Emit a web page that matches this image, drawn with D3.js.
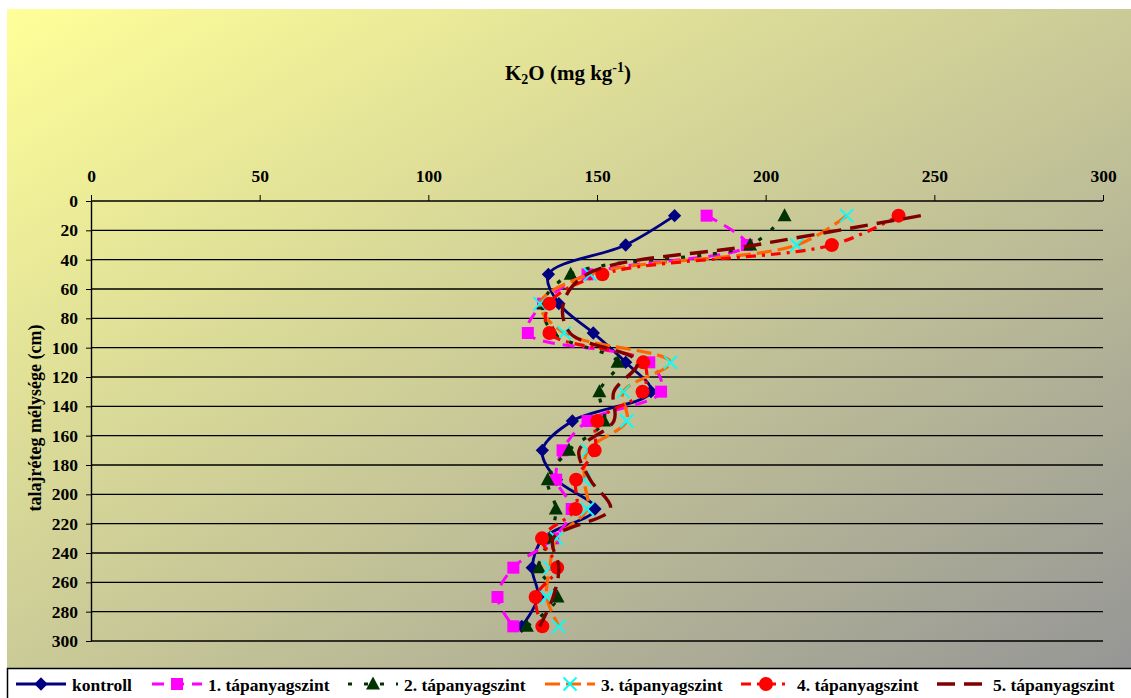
<!DOCTYPE html>
<html>
<head>
<meta charset="utf-8">
<script src="https://cdn.jsdelivr.net/npm/d3@7"></script>
<style>
  body { margin: 0; background: #fff; }
  svg { display: block; }
  text { font-family: "Liberation Serif", "Times New Roman", serif; font-weight: bold; fill: #000; }
</style>
</head>
<body>
<svg id="chart" width="1131" height="698"></svg>
<script>
// Sampling depths (cm) – midpoints of the 20 cm soil layers
const depths = [10, 30, 50, 70, 90, 110, 130, 150, 170, 190, 210, 230, 250, 270, 290];
const depthTicks = [0, 20, 40, 60, 80, 100, 120, 140, 160, 180, 200, 220, 240, 260, 280, 300];
const valueTicks = [0, 50, 100, 150, 200, 250, 300];

// K2O content (mg/kg) per treatment
const kontroll = [173, 158.5, 135.6, 138.7, 148.9, 158.5, 166, 142.7, 133.8, 138, 149.4, 134, 130.8, 132.5, 127.7];
const level1   = [182.5, 194.4, 147.2, 134, 129.5, 165.5, 169, 147.2, 139.8, 137.9, 142.5, 137, 125.2, 120.5, 125.2];
const level2   = [205.6, 195.4, 142.2, 134, 137, 156.1, 150.7, 152.1, 141.7, 135.4, 137.8, 136, 132.8, 138.3, 129.2];
const level3   = [224, 209.2, 148, 133.1, 140.3, 171.8, 157.8, 158.8, 147.3, 146.2, 147.1, 138, 136, 135.1, 138.7];
const level4   = [239.4, 219.6, 151.6, 135.9, 135.9, 163.7, 163.5, 150.1, 149.3, 143.8, 143.7, 133.7, 138.2, 131.8, 133.8];
const level5   = [246, 197, 147, 140, 142, 162, 155, 155, 144.7, 148, 154, 137, 138.7, 137, 133];

const seriesNames = ["kontroll", "1. tápanyagszint", "2. tápanyagszint",
                     "3. tápanyagszint", "4. tápanyagszint", "5. tápanyagszint"];

// Line / marker styling for each treatment
const styles = [
  { values: kontroll, color: "#000080", width: 2.8, dash: null,        marker: "diamond",  mColor: "#000080" },
  { values: level1,   color: "#FF00FF", width: 3,   dash: "12,8",      marker: "square",   mColor: "#FF00FF" },
  { values: level2,   color: "#003300", width: 3.2, dash: "4,12",      marker: "triangle", mColor: "#003300" },
  { values: level3,   color: "#FF6600", width: 3.2, dash: "15,6",      marker: "x",        mColor: "#00FFFF" },
  { values: level4,   color: "#FF0000", width: 3.2, dash: "10,6,3,6",  marker: "circle",   mColor: "#FF0000" },
  { values: level5,   color: "#800000", width: 3.4, dash: "18,9",      marker: null,       mColor: null }
];

const svg = d3.select("#chart");

// Background with diagonal yellow-to-grey fill
const defs = svg.append("defs");
const grad = defs.append("linearGradient")
  .attr("id", "bg").attr("x1", 0).attr("y1", 0).attr("x2", 1).attr("y2", 1);
grad.append("stop").attr("offset", "0%").attr("stop-color", "#FFFF99");
grad.append("stop").attr("offset", "100%").attr("stop-color", "#969696");

svg.append("rect").attr("x", 7).attr("y", 9).attr("width", 1124).attr("height", 660)
  .attr("fill", "url(#bg)");

const x = d3.scaleLinear().domain([0, 300]).range([91, 1103]);
const y = d3.scaleLinear().domain([0, 300]).range([201, 641]);

// Horizontal gridlines
svg.append("g").selectAll("line").data(depthTicks).join("line")
  .attr("x1", x(0)).attr("x2", x(300))
  .attr("y1", d => y(d)).attr("y2", d => y(d))
  .attr("stroke", "#000").attr("stroke-width", 1.4);

// Top value axis
const topAxis = svg.append("g").attr("transform", `translate(0,${y(0)})`)
  .call(d3.axisTop(x).tickValues(valueTicks).tickSize(6).tickPadding(13).tickSizeOuter(0));
topAxis.attr("font-family", null);
topAxis.select(".domain").remove();
topAxis.selectAll("line").attr("stroke", "#000");
topAxis.selectAll("text").attr("font-size", 17.5);

// Left depth axis
const leftAxis = svg.append("g").attr("transform", `translate(${x(0)},0)`)
  .call(d3.axisLeft(y).tickValues(depthTicks).tickSize(5).tickPadding(8).tickSizeOuter(0));
leftAxis.attr("font-family", null);
leftAxis.select(".domain").attr("stroke", "#000").attr("stroke-width", 1.4);
leftAxis.selectAll("line").attr("stroke", "#000");
leftAxis.selectAll("text").attr("font-size", 17.5);

// Title with sub/superscripts
const title = svg.append("text").attr("x", 568).attr("y", 80)
  .attr("text-anchor", "middle").attr("font-size", 21);
title.append("tspan").text("K");
title.append("tspan").attr("font-size", 14).attr("dy", 4).text("2");
title.append("tspan").attr("dy", -4).text("O (mg kg");
title.append("tspan").attr("font-size", 14).attr("dy", -8).text("-1");
title.append("tspan").attr("dy", 8).text(")");

// Depth axis label
svg.append("text").attr("transform", "translate(41,418) rotate(-90)")
  .attr("text-anchor", "middle").attr("font-size", 18)
  .text("talajréteg mélysége (cm)");

// Marker drawing helper
function drawMarker(sel, type, color) {
  if (type === "diamond") {
    sel.append("path").attr("d", d3.symbol(d3.symbolSquare, 88)())
      .attr("transform", "rotate(45)")
      .attr("fill", color);
  } else if (type === "square") {
    sel.append("path").attr("d", d3.symbol(d3.symbolSquare, 144)()).attr("fill", color);
  } else if (type === "triangle") {
    sel.append("path").attr("d", "M0,-7.5L7,5.5L-7,5.5Z").attr("fill", color);
  } else if (type === "circle") {
    sel.append("circle").attr("r", 7).attr("fill", color);
  } else if (type === "x") {
    sel.append("path").attr("d", "M-6.5,-6.5L6.5,6.5M-6.5,6.5L6.5,-6.5")
      .attr("stroke", color).attr("stroke-width", 1.8).attr("fill", "none");
  }
}

const line = d3.line()
  .x(d => x(d.v)).y(d => y(d.d))
  .curve(d3.curveCatmullRom.alpha(0.5));

const plot = svg.append("g");
styles.forEach((s, i) => {
  const pts = depths.map((d, j) => ({ d: d, v: s.values[j] }));
  plot.append("path").datum(pts)
    .attr("d", line)
    .attr("fill", "none")
    .attr("stroke", s.color)
    .attr("stroke-width", s.width)
    .attr("stroke-dasharray", s.dash);
  if (s.marker) {
    const g = plot.append("g").selectAll("g").data(pts).join("g")
      .attr("transform", p => `translate(${x(p.v)},${y(p.d)})`);
    g.each(function () { drawMarker(d3.select(this), s.marker, s.mColor); });
  }
});

// Legend
const legendX = [16, 152, 348, 545, 741, 937];
svg.append("rect").attr("x", 7.5).attr("y", 668.5).attr("width", 1130).attr("height", 40)
  .attr("fill", "#fff").attr("stroke", "#000").attr("stroke-width", 1.5);
styles.forEach((s, i) => {
  const lx = legendX[i];
  const g = svg.append("g");
  g.append("line").attr("x1", lx).attr("x2", lx + 50).attr("y1", 684).attr("y2", 684)
    .attr("stroke", s.color).attr("stroke-width", s.width).attr("stroke-dasharray", s.dash);
  if (s.marker) {
    const m = g.append("g").attr("transform", `translate(${lx + 25},684)`);
    drawMarker(m, s.marker, s.mColor);
  }
  g.append("text").attr("x", lx + 56).attr("y", 691).attr("font-size", 17.5).text(seriesNames[i]);
});
</script>
</body>
</html>
